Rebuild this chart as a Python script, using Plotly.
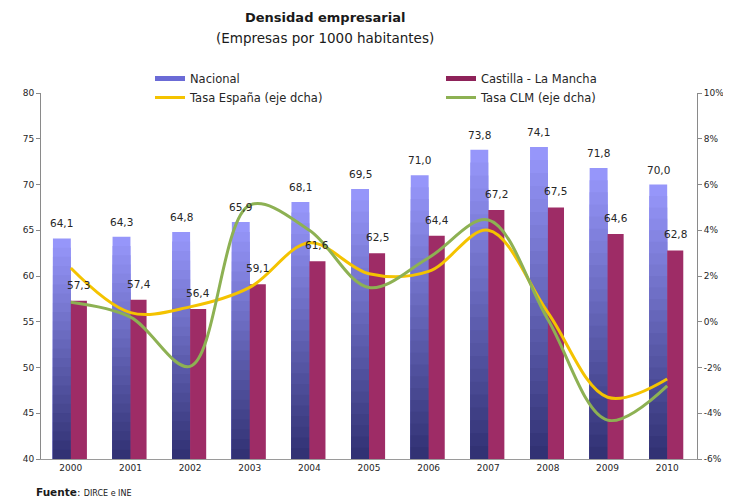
import plotly.graph_objects as go

years = ["2000", "2001", "2002", "2003", "2004", "2005", "2006", "2007", "2008", "2009", "2010"]
nacional = [64.1, 64.3, 64.8, 65.9, 68.1, 69.5, 71.0, 73.8, 74.1, 71.8, 70.0]
clm = [57.3, 57.4, 56.4, 59.1, 61.6, 62.5, 64.4, 67.2, 67.5, 64.6, 62.8]
tasa_espana = [2.35, 0.4, 0.65, 1.5, 3.45, 2.1, 2.2, 4.0, 0.4, -3.3, -2.5]
tasa_clm = [0.85, 0.2, -1.95, 5.1, 4.0, 1.5, 2.8, 4.45, 0.1, -4.3, -2.8]
left_ticks = [40, 45, 50, 55, 60, 65, 70, 75, 80]
right_ticks = [-6, -4, -2, 0, 2, 4, 6, 8, 10]
right_labels = ["-6%", "-4%", "-2%", "0%", "2%", "4%", "6%", "8%", "10%"]

BASE = 40
FONT = "DejaVu Sans"
TXT = "#262626"
NAC_OFF, NAC_W = -0.3, 0.3
CLM_OFF, CLM_W = 0.0, 0.27


def fmt(v):
    return f"{v:.1f}".replace(".", ",")


def mix(c1, c2, t):
    return "rgb(%d,%d,%d)" % tuple(round(a + (b - a) * t) for a, b in zip(c1, c2))


fig = go.Figure()

# Nacional bars with vertical gradient (light top -> dark bottom)
N = 24
top_c = (150, 150, 250)
bot_c = (50, 50, 116)
for k in range(N):
    frac = 1 - k / N
    fig.add_trace(go.Bar(
        x=years, y=[(v - BASE) * frac for v in nacional], base=BASE,
        offset=NAC_OFF, width=NAC_W,
        marker=dict(color=mix(top_c, bot_c, k / (N - 1)), line=dict(width=0)),
        showlegend=False, hoverinfo="skip",
    ))

# Castilla - La Mancha bars
fig.add_trace(go.Bar(
    x=years, y=[v - BASE for v in clm], base=BASE,
    offset=CLM_OFF, width=CLM_W,
    marker=dict(color="#9E2C66", line=dict(width=0)),
    showlegend=False, hoverinfo="skip",
))

# legend entries
fig.add_trace(go.Scatter(x=[None], y=[None], mode="lines", name="Nacional",
                         line=dict(color="#6B6BD6", width=5)))
fig.add_trace(go.Scatter(x=[None], y=[None], mode="lines", name="Castilla - La Mancha",
                         line=dict(color="#8E2259", width=5)))

# rate lines on right axis
fig.add_trace(go.Scatter(x=years, y=tasa_espana, yaxis="y2", mode="lines",
                         name="Tasa España (eje dcha)",
                         line=dict(color="#F4C300", width=3, shape="spline", smoothing=1)))
fig.add_trace(go.Scatter(x=years, y=tasa_clm, yaxis="y2", mode="lines",
                         name="Tasa CLM (eje dcha)",
                         line=dict(color="#8DB153", width=3, shape="spline", smoothing=1)))

# page body has an 8px margin: figure drawn at (8, 8) inside the 731x499 window
OFF = 8
W, H = 731 - OFF, 499 - OFF
L, T = 41 - OFF, 93 - OFF
pw, ph = 656, 366
R, B = W - L - pw, H - T - ph


def px_x(x):
    return (x - OFF - L) / pw


def px_y(y):
    return 1 + (T - (y - OFF)) / ph


# value labels above the bars
labels = []
for i, v in enumerate(nacional):
    labels.append(dict(x=i + NAC_OFF + NAC_W / 2, y=v, xref="x", yref="y", text=fmt(v),
                       showarrow=False, yanchor="middle", xanchor="center", yshift=15,
                       font=dict(family=FONT, size=10.5, color=TXT)))
for i, v in enumerate(clm):
    labels.append(dict(x=i + CLM_OFF + CLM_W / 2, y=v, xref="x", yref="y", text=fmt(v),
                       showarrow=False, yanchor="middle", xanchor="center", yshift=16,
                       font=dict(family=FONT, size=10.5, color=TXT)))

fig.update_layout(
    width=W, height=H,
    margin=dict(l=L, r=R, t=T, b=B, autoexpand=False),
    paper_bgcolor="white", plot_bgcolor="white",
    barmode="overlay", separators=",.",
    font=dict(family=FONT, size=10, color=TXT),
    showlegend=True,
    legend=dict(orientation="h", xref="container", yref="container",
                x=(150 - OFF) / W, y=1 - (64 - OFF) / H, xanchor="left", yanchor="top",
                entrywidth=246, entrywidthmode="pixels",
                font=dict(family=FONT, size=11.5, color=TXT), bgcolor="rgba(0,0,0,0)",
                tracegroupgap=0),
    xaxis=dict(type="category", showline=True, linecolor="#9a9a9a", ticks="",
               tickfont=dict(family=FONT, size=9, color=TXT), showgrid=False,
               range=[-0.5, 10.5]),
    yaxis=dict(range=[40, 80], tickvals=left_ticks, showline=True, linecolor="#8a8a8a",
               ticks="outside", ticklen=4, tickcolor="#8a8a8a", showgrid=False, zeroline=False,
               tickfont=dict(family=FONT, size=9, color=TXT)),
    yaxis2=dict(range=[-6, 10], overlaying="y", side="right", tickvals=right_ticks,
                ticktext=right_labels, showline=True, linecolor="#8a8a8a",
                ticks="outside", ticklen=4, tickcolor="#8a8a8a", showgrid=False,
                zeroline=False, tickfont=dict(family=FONT, size=9, color=TXT)),
    annotations=labels + [
        dict(text="<b>Densidad empresarial</b>", xref="paper", yref="paper",
             x=px_x(325), y=px_y(17), xanchor="center", yanchor="middle", showarrow=False,
             font=dict(family=FONT, size=13, color="#1a1a1a")),
        dict(text="(Empresas por 1000 habitantes)", xref="paper", yref="paper",
             x=px_x(325), y=px_y(38), xanchor="center", yanchor="middle", showarrow=False,
             font=dict(family=FONT, size=13.5, color="#1a1a1a")),
        dict(text="<b>Fuente</b>: <span style='font-size:8px'>DIRCE e INE</span>",
             xref="paper", yref="paper", x=px_x(34), y=px_y(492),
             xanchor="left", yanchor="middle", showarrow=False,
             font=dict(family=FONT, size=10.5, color="#1a1a1a")),
    ],
)

fig.write_html("out.html")
